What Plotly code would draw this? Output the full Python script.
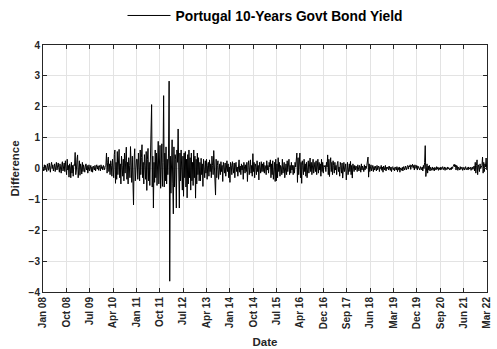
import pandas as pd
import plotly.graph_objects as go

# Weekly first differences of the Portugal 10-year government bond yield, by year
diff_2008 = [0.05, -0.08, 0.12, -0.05, 0.1, 0.02, -0.1, 0.15, 0.08, -0.06, 0.18, 0.05, -0.12, 0.1, 0.2, 0.0,
             0.12, -0.08, 0.06, 0.15, -0.1, 0.08, 0.2, -0.05, 0.1, 0.18, 0.02, -0.12, 0.15, 0.05, -0.15, 0.12,
             0.22, -0.08, 0.05, 0.18, -0.1, 0.25, 0.0, -0.2, 0.3, -0.05, 0.1, -0.28, 0.15, 0.05, -0.3, 0.2,
             -0.15, 0.1, -0.25, 0.12]
diff_2009 = [0.1, 0.52, -0.2, -0.05, 0.3, 0.44, -0.3, 0.1, 0.25, -0.22, 0.15, 0.05, -0.18, 0.2, -0.1, 0.12,
             0.02, -0.12, 0.08, 0.15, -0.05, 0.1, -0.15, 0.05, 0.12, -0.08, 0.0, 0.1, -0.1, 0.05, -0.12, 0.08,
             0.02, -0.05, 0.1, -0.08, 0.05, 0.12, -0.02, 0.08, -0.06, 0.1, 0.04, -0.08, 0.12, 0.0, 0.06, -0.05,
             0.1, 0.03, -0.04, 0.08]
diff_2010 = [0.1, 0.5, -0.15, 0.2, 0.37, -0.1, 0.15, -0.2, 0.25, 0.1, -0.25, 0.3, 0.05, -0.3, 0.45, 0.6,
             -0.48, 0.2, -0.35, 0.55, -0.2, 0.35, 0.62, -0.3, 0.15, -0.5, 0.4, 0.1, -0.25, 0.3, -0.4, 0.5,
             -0.15, 0.25, 0.69, -0.35, 0.2, -0.5, 0.35, 0.1, -0.3, 0.71, 0.2, -0.45, 0.4, -0.2, -1.18, 0.3,
             0.64, -0.4, 0.15, 0.3]
diff_2011 = [0.3, -0.35, 0.5, 0.1, -0.4, 0.6, -0.2, 0.35, 0.77, -0.3, 0.2, -0.5, 0.45, 0.1, -0.35, 0.55,
             -0.71, 0.3, 0.65, -0.4, 0.2, -0.55, 0.5, 0.3, 2.07, -0.6, 0.4, -1.28, 0.2, -0.45, 0.6, -0.3,
             0.5, -0.55, 0.1, 0.88, -0.5, 0.3, 0.75, -0.64, 0.4, 0.8, -0.58, 0.2, 2.36, -0.6, 0.5, -0.4,
             0.7, -0.5, 0.3, -0.2]
diff_2012 = [0.5, 2.83, -3.65, 0.4, -0.8, 0.6, 0.93, -0.5, -1.47, 0.7, -0.6, 0.45, 0.3, -1.28, 0.6, 0.2,
             1.28, -0.7, -1.28, 0.5, -0.4, 0.6, 0.2, -0.7, 0.4, -0.9, 0.5, -0.3, 0.55, -0.6, 0.3, -0.95,
             0.45, -0.5, 0.6, -0.3, 0.35, -0.7, 0.5, -0.4, 0.2, -0.55, 0.6, -0.3, 0.4, -0.96, 0.3, -0.5,
             0.5, -0.2, 0.35, -0.4]
diff_2013 = [0.2, -0.4, 0.33, -0.2, 0.15, -0.58, 0.3, 0.1, -0.3, 0.25, -0.15, 0.3, -0.35, 0.1, 0.2, -0.25,
             0.28, -0.1, 0.15, -0.3, 0.4, 0.1, -0.2, 0.58, 0.2, -0.45, -0.86, 0.3, -0.3, 0.1, 0.25, -0.35,
             0.05, 0.15, -0.2, 0.22, -0.1, 0.1, -0.42, 0.2, 0.05, -0.15, 0.18, -0.25, 0.1, 0.25, -0.1, 0.15,
             -0.3, 0.05, -0.45, 0.2]
diff_2014 = [0.1, -0.2, 0.22, 0.05, -0.15, 0.18, -0.3, 0.12, 0.2, -0.1, 0.05, -0.25, 0.15, 0.28, -0.12, 0.08,
             -0.2, 0.15, -0.05, 0.1, -0.35, 0.2, 0.05, -0.15, 0.12, -0.1, 0.2, -0.42, 0.1, 0.25, -0.2, 0.05,
             0.28, -0.15, 0.1, -0.25, 0.48, -0.1, 0.2, -0.3, 0.15, 0.05, -0.2, 0.25, -0.1, 0.1, -0.37, 0.2,
             0.05, -0.15, 0.22, -0.1]
diff_2015 = [0.15, -0.1, 0.2, -0.15, 0.1, 0.05, -0.2, 0.25, -0.05, 0.1, -0.15, 0.2, 0.05, 0.28, -0.3, 0.15,
             -0.2, 0.25, -0.35, 0.1, 0.2, -0.42, 0.3, -0.4, 0.15, -0.3, 0.35, -0.1, 0.2, -0.25, 0.1, 0.05,
             -0.2, 0.3, -0.15, 0.1, 0.2, -0.3, 0.05, 0.15, -0.2, 0.25, -0.1, 0.05, 0.3, -0.2, 0.1, -0.15,
             0.2, -0.05, 0.1, -0.2]
diff_2016 = [0.1, -0.15, 0.2, 0.05, 0.3, 0.5, -0.45, 0.35, -0.2, 0.15, 0.5, -0.3, 0.2, -0.48, 0.25, 0.1,
             -0.2, 0.3, -0.1, 0.15, -0.25, 0.2, -0.3, 0.1, 0.25, -0.15, 0.05, 0.34, -0.1, 0.2, -0.2, 0.15,
             0.3, -0.15, 0.05, 0.2, -0.1, 0.25, -0.2, 0.1, 0.3, -0.15, 0.2, -0.05, 0.15, -0.25, 0.3, -0.1,
             0.2, -0.15, 0.1, 0.05]
diff_2017 = [0.1, -0.1, 0.2, 0.05, 0.44, -0.2, 0.3, -0.26, 0.15, 0.35, -0.1, 0.2, -0.2, 0.25, 0.1, -0.15,
             0.2, -0.05, 0.1, -0.2, 0.15, 0.23, -0.1, 0.05, -0.25, 0.2, 0.1, -0.15, 0.18, -0.31, 0.1, 0.2,
             -0.1, 0.05, 0.15, -0.37, 0.1, 0.2, -0.2, 0.05, 0.15, -0.1, 0.23, -0.2, 0.1, -0.31, 0.15, 0.05,
             -0.1, 0.1, -0.05, 0.08]
diff_2018 = [0.05, -0.1, 0.12, 0.0, -0.08, 0.1, 0.05, -0.12, 0.15, -0.05, 0.08, 0.02, -0.1, 0.12, -0.05, 0.08,
             0.0, 0.1, 0.2, 0.37, -0.28, 0.15, -0.1, 0.05, 0.12, -0.08, 0.02, 0.1, -0.1, 0.06, -0.05, 0.08,
             0.0, -0.08, 0.1, -0.04, 0.05, 0.08, -0.1, 0.04, 0.0, 0.1, -0.06, 0.05, -0.12, 0.08, 0.02, -0.05,
             0.1, -0.08, 0.04, 0.0]
diff_2019 = [0.05, -0.05, 0.08, 0.0, -0.06, 0.05, -0.1, 0.04, 0.06, -0.04, 0.02, -0.08, 0.05, 0.0, -0.05, 0.06,
             -0.1, 0.03, -0.04, 0.05, -0.12, 0.02, 0.0, -0.06, 0.04, -0.08, 0.06, 0.02, -0.05, 0.08, 0.0, -0.04,
             0.06, 0.1, -0.02, 0.08, 0.05, 0.12, -0.03, 0.1, 0.06, 0.14, 0.02, 0.1, -0.05, 0.12, 0.06, 0.0,
             0.1, -0.05, 0.08, 0.04]
diff_2020 = [0.02, -0.05, 0.06, 0.0, -0.04, 0.05, -0.08, 0.1, 0.0, 0.2, 0.74, -0.26, -0.1, 0.15, -0.15, 0.08,
             -0.05, 0.1, -0.08, 0.04, 0.0, -0.06, 0.05, -0.04, 0.02, -0.08, 0.04, 0.0, -0.05, 0.06, -0.02, 0.04,
             -0.06, 0.03, 0.0, -0.05, 0.05, -0.03, 0.02, 0.06, -0.04, 0.0, 0.05, -0.06, 0.03, 0.0, -0.04, 0.05,
             -0.02, 0.03, 0.0, -0.05]
diff_2021 = [0.02, -0.04, 0.05, 0.0, 0.06, 0.1, 0.14, 0.05, 0.12, -0.05, 0.1, 0.08, -0.06, 0.04, 0.0, -0.05,
             0.06, -0.03, 0.02, 0.05, -0.06, 0.0, 0.04, -0.05, 0.02, 0.06, -0.04, 0.0, 0.03, -0.05, 0.05, -0.02,
             0.0, 0.04, -0.06, 0.02, 0.05, -0.03, 0.0, 0.08, -0.08, 0.2, -0.15, 0.1, 0.28, -0.2, 0.12, 0.05,
             -0.1, 0.15, 0.0, 0.08]
diff_2022 = [0.1, 0.37, -0.15, 0.2, -0.1, 0.15, 0.05, 0.34, -0.05]

yearly = {
    2008: diff_2008, 2009: diff_2009, 2010: diff_2010, 2011: diff_2011, 2012: diff_2012,
    2013: diff_2013, 2014: diff_2014, 2015: diff_2015, 2016: diff_2016, 2017: diff_2017,
    2018: diff_2018, 2019: diff_2019, 2020: diff_2020, 2021: diff_2021, 2022: diff_2022,
}

tick_labels = ["Jan 08", "Oct 08", "Jul 09", "Apr 10", "Jan 11", "Oct 11", "Jul 12", "Apr 13",
               "Jan 14", "Oct 14", "Jul 15", "Apr 16", "Dec 16", "Sep 17", "Jun 18", "Mar 19",
               "Dec 19", "Sep 20", "Jun 21", "Mar 22"]

start_date = pd.Timestamp("2008-01-02")
end_date = pd.Timestamp("2022-03-04")

dates, values = [], []
for year, vals in yearly.items():
    dates.extend(pd.date_range(f"{year}-01-04", periods=len(vals), freq="7D"))
    values.extend(vals)

# Evenly spaced date ticks across the full span
tick_vals = pd.date_range(start_date, end_date, periods=len(tick_labels))

font_family = "Liberation Sans, Arial, sans-serif"
axis_color = "#262626"

fig = go.Figure()
fig.add_trace(go.Scatter(
    x=dates, y=values, mode="lines",
    line=dict(color="black", width=1),
    name="Portugal 10-Years Govt Bond Yield",
    showlegend=True,
))

common_axis = dict(
    showline=True, linecolor=axis_color, linewidth=1, mirror="ticks",
    ticks="inside", ticklen=4, tickcolor=axis_color, tickwidth=1,
    showgrid=True, gridcolor="#e3e3e3", gridwidth=1, zeroline=False,
    automargin=False,
    tickfont=dict(family=font_family, size=10, color=axis_color, weight="bold"),
)

fig.update_xaxes(
    **common_axis,
    range=[start_date, end_date],
    tickmode="array", tickvals=tick_vals, ticktext=tick_labels, tickangle=-90,
    title=dict(text="Date", font=dict(family=font_family, size=11.5, color=axis_color, weight="bold"),
               standoff=9),
)
fig.update_yaxes(
    **common_axis,
    range=[-4, 4], tickmode="array", tickvals=list(range(-4, 5)),
    title=dict(text="Difference", font=dict(family=font_family, size=11.5, color=axis_color, weight="bold"),
               standoff=6),
)

fig.update_layout(
    width=497, height=349,
    margin=dict(l=43, r=10, t=45, b=57),
    paper_bgcolor="white", plot_bgcolor="white",
    showlegend=True,
    legend=dict(
        x=0.5, xanchor="center", y=1.0, yanchor="top", yref="container",
        orientation="h", bgcolor="rgba(0,0,0,0)", borderwidth=0,
        itemwidth=43,
        font=dict(family=font_family, size=13.8, color="black", weight="bold"),
    ),
)

fig.write_html("out.html")
